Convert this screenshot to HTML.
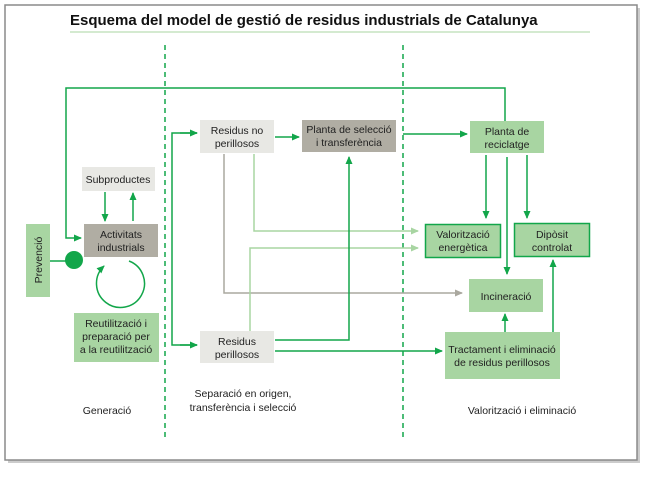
<!DOCTYPE html>
<html><head><meta charset="utf-8"><style>
body{margin:0;background:#fff;width:650px;height:477px;overflow:hidden}
svg text{font-family:"Liberation Sans",sans-serif;font-size:10.5px;fill:#222}
</style></head><body>
<svg width="650" height="477" viewBox="0 0 650 477" xmlns="http://www.w3.org/2000/svg">
<defs>
<marker id="g" markerWidth="8" markerHeight="8" refX="7" refY="4" orient="auto" markerUnits="userSpaceOnUse"><path d="M0,0.5 L8,4 L0,7.5z" fill="#12a64a"/></marker>
<marker id="lg" markerWidth="8" markerHeight="8" refX="7" refY="4" orient="auto" markerUnits="userSpaceOnUse"><path d="M0,0.5 L8,4 L0,7.5z" fill="#a8d5a2"/></marker>
<marker id="gr" markerWidth="8" markerHeight="8" refX="7" refY="4" orient="auto" markerUnits="userSpaceOnUse"><path d="M0,0.5 L8,4 L0,7.5z" fill="#aaa89f"/></marker>
</defs>
<rect x="8" y="8" width="632" height="455" fill="#999" opacity="0.5"/>
<rect x="5" y="5" width="632" height="455" fill="#fff" stroke="#8a8a8a" stroke-width="1.5"/>
<text x="70" y="25" style="font-size:15px;font-weight:bold;fill:#111">Esquema del model de gestió de residus industrials de Catalunya</text>
<line x1="70" y1="32" x2="590" y2="32" stroke="#a8d5a2" stroke-width="1"/>
<line x1="165" y1="45" x2="165" y2="437" stroke="#12a64a" stroke-width="1.5" stroke-dasharray="5,4"/>
<line x1="403" y1="45" x2="403" y2="437" stroke="#12a64a" stroke-width="1.5" stroke-dasharray="5,4"/>
<g fill="none" stroke-width="1.5">
<path d="M505,121 V88 H66 V238 H81" stroke="#12a64a" marker-end="url(#g)"/>
<path d="M275,137 H299" stroke="#12a64a" marker-end="url(#g)"/>
<path d="M403,134 H467" stroke="#12a64a" marker-end="url(#g)"/>
<path d="M105,192 V221" stroke="#12a64a" marker-end="url(#g)"/>
<path d="M133,221 V193" stroke="#12a64a" marker-end="url(#g)"/>
<path d="M50,261 H70" stroke="#12a64a"/>
<path d="M129,261 A24,24 0 1 1 104,266" stroke="#12a64a" marker-end="url(#g)"/>
<path d="M197,133 H172 V345 H197" stroke="#12a64a"/>
<path d="M180,133 H197" stroke="#12a64a" marker-end="url(#g)"/>
<path d="M180,345 H197" stroke="#12a64a" marker-end="url(#g)"/>
<path d="M224,154 V293 H462" stroke="#aaa89f" marker-end="url(#gr)"/>
<path d="M254,154 V231 H418" stroke="#a8d5a2" marker-end="url(#lg)"/>
<path d="M250,331 V248 H418" stroke="#a8d5a2" marker-end="url(#lg)"/>
<path d="M275,340 H349 V157" stroke="#12a64a" marker-end="url(#g)"/>
<path d="M275,351 H442" stroke="#12a64a" marker-end="url(#g)"/>
<path d="M486,155 V218" stroke="#12a64a" marker-end="url(#g)"/>
<path d="M507,157 V274" stroke="#12a64a" marker-end="url(#g)"/>
<path d="M527,155 V218" stroke="#12a64a" marker-end="url(#g)"/>
<path d="M505,332 V314" stroke="#12a64a" marker-end="url(#g)"/>
<path d="M553,332 V260" stroke="#12a64a" marker-end="url(#g)"/>
</g>
<circle cx="74" cy="260" r="9" fill="#12a64a"/>
<rect x="200" y="120" width="74" height="33" fill="#e8e8e4"/>
<text x="237" y="134" text-anchor="middle">Residus no</text><text x="237" y="147" text-anchor="middle">perillosos</text>
<rect x="302" y="120" width="94" height="32" fill="#b0ada3"/>
<text x="349" y="133" text-anchor="middle">Planta de selecció</text><text x="349" y="146" text-anchor="middle">i transferència</text>
<rect x="470" y="121" width="74" height="32" fill="#a8d5a2"/>
<text x="507" y="135" text-anchor="middle">Planta de</text><text x="507" y="148" text-anchor="middle">reciclatge</text>
<rect x="82" y="167" width="73" height="24" fill="#e8e8e4"/>
<text x="118" y="183" text-anchor="middle">Subproductes</text>
<rect x="84" y="224" width="74" height="33" fill="#b0ada3"/>
<text x="121" y="238" text-anchor="middle">Activitats</text><text x="121" y="251" text-anchor="middle">industrials</text>
<rect x="26" y="224" width="24" height="73" fill="#a8d5a2"/>
<text transform="translate(42,260) rotate(-90)" text-anchor="middle">Prevenció</text>
<rect x="74" y="313" width="85" height="49" fill="#a8d5a2"/>
<text x="116" y="327" text-anchor="middle">Reutilització i</text><text x="116" y="340" text-anchor="middle">preparació per</text><text x="116" y="353" text-anchor="middle">a la reutilització</text>
<rect x="200" y="331" width="74" height="32" fill="#e8e8e4"/>
<text x="237" y="345" text-anchor="middle">Residus</text><text x="237" y="358" text-anchor="middle">perillosos</text>
<rect x="425.5" y="224.5" width="75" height="33" fill="#a8d5a2" stroke="#12a64a" stroke-width="1.5"/>
<text x="463" y="238" text-anchor="middle">Valorització</text><text x="463" y="251" text-anchor="middle">energètica</text>
<rect x="514.5" y="223.5" width="75" height="33" fill="#a8d5a2" stroke="#12a64a" stroke-width="1.5"/>
<text x="552" y="238" text-anchor="middle">Dipòsit</text><text x="552" y="251" text-anchor="middle">controlat</text>
<rect x="469" y="279" width="74" height="33" fill="#a8d5a2"/>
<text x="506" y="300" text-anchor="middle">Incineració</text>
<rect x="445" y="332" width="115" height="47" fill="#a8d5a2"/>
<text x="502" y="353" text-anchor="middle">Tractament i eliminació</text><text x="502" y="366" text-anchor="middle">de residus perillosos</text>
<text x="107" y="414" text-anchor="middle">Generació</text>
<text x="243" y="397" text-anchor="middle">Separació en origen,</text>
<text x="243" y="411" text-anchor="middle">transferència i selecció</text>
<text x="522" y="414" text-anchor="middle">Valorització i eliminació</text>
</svg>
</body></html>
